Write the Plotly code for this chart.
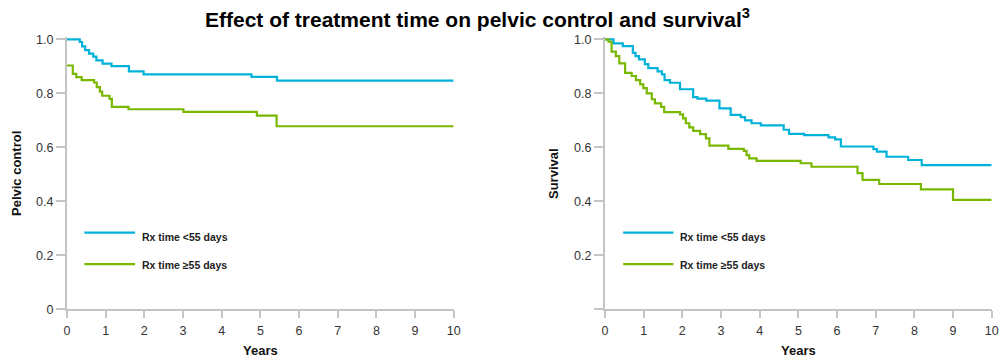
import plotly.graph_objects as go

# ---- data ----
years_ticks = [0, 1, 2, 3, 4, 5, 6, 7, 8, 9, 10]
y_ticks = [0, 0.2, 0.4, 0.6, 0.8, 1.0]
y_ticktext_left = ["0", "0.2", "0.4", "0.6", "0.8", "1.0"]
y_ticktext_right = [" ", "0.2", "0.4", "0.6", "0.8", "1.0"]

series_names = ["Rx time <55 days", "Rx time \u226555 days"]

# Pelvic control
pc_short_t = [0, 0.33, 0.39, 0.47, 0.57, 0.68, 0.76, 0.92, 1.15, 1.60, 1.98, 4.77, 5.43, 10]
pc_short_v = [1.0, 0.990, 0.974, 0.960, 0.947, 0.936, 0.922, 0.910, 0.901, 0.881, 0.870, 0.861, 0.847, 0.847]
pc_long_t = [0, 0.15, 0.24, 0.38, 0.70, 0.77, 0.85, 0.91, 1.10, 1.16, 1.59, 3.01, 4.91, 5.42, 10]
pc_long_v = [0.903, 0.872, 0.860, 0.849, 0.840, 0.823, 0.806, 0.791, 0.779, 0.750, 0.741, 0.731, 0.717, 0.678, 0.678]

# Survival
sv_short_t = [0, 0.22, 0.46, 0.72, 0.79, 0.88, 1.03, 1.12, 1.36, 1.47,
              1.54, 1.68, 1.94, 2.28, 2.39, 2.62, 2.96, 3.25, 3.51, 3.62,
              3.79, 4.03, 4.62, 4.76, 5.15, 5.78, 5.95, 6.10, 6.94, 7.03,
              7.28, 7.84, 8.19, 10]
sv_short_v = [1.0, 0.985, 0.975, 0.950, 0.938, 0.926, 0.908, 0.893, 0.881, 0.870,
              0.849, 0.839, 0.815, 0.786, 0.780, 0.773, 0.744, 0.720, 0.712, 0.700,
              0.689, 0.681, 0.665, 0.650, 0.645, 0.637, 0.629, 0.603, 0.593, 0.584,
              0.565, 0.553, 0.534, 0.534]
sv_long_t = [0, 0.09, 0.17, 0.28, 0.37, 0.52, 0.69, 0.80, 0.91, 0.99,
             1.08, 1.21, 1.29, 1.45, 1.53, 1.94, 2.02, 2.09, 2.18, 2.28,
             2.46, 2.61, 2.70, 3.19, 3.59, 3.66, 3.73, 3.92, 5.06, 5.34,
             6.53, 6.66, 7.09, 8.17, 9.0, 10]
sv_long_v = [1.0, 0.991, 0.954, 0.938, 0.911, 0.876, 0.864, 0.849, 0.833, 0.819,
             0.800, 0.778, 0.763, 0.750, 0.730, 0.722, 0.707, 0.689, 0.674, 0.661,
             0.649, 0.633, 0.606, 0.594, 0.587, 0.571, 0.559, 0.550, 0.541, 0.528,
             0.504, 0.479, 0.464, 0.444, 0.405, 0.405]

BLUE = "#00B2D9"
GREEN = "#79B800"
AXIS = "#C4C4C4"
FONT = "Arial, Liberation Sans, sans-serif"

W, H = 1002, 360

fig = go.Figure()

for (t, v, color, name, xa, ya) in [
    (pc_short_t, pc_short_v, BLUE, series_names[0], "x", "y"),
    (pc_long_t, pc_long_v, GREEN, series_names[1], "x", "y"),
    (sv_short_t, sv_short_v, BLUE, series_names[0], "x2", "y2"),
    (sv_long_t, sv_long_v, GREEN, series_names[1], "x2", "y2"),
]:
    fig.add_trace(go.Scatter(x=t, y=v, mode="lines", line=dict(color=color, width=2.2, shape="hv"),
                             name=name, showlegend=False, xaxis=xa, yaxis=ya, hoverinfo="skip"))

# pixel geometry
def px_x(p):
    return p / W

def px_y(p):
    return (H - p) / H

y_top_px, y_bot_px = 39.3, 309.3
ymax = 1.01
y_top_dom = y_bot_px - (y_bot_px - y_top_px) * ymax

xaxis_common = dict(range=[0, 10], tickvals=years_ticks, ticks="outside", ticklen=7, tickwidth=2,
                    tickcolor=AXIS, showline=True, linecolor=AXIS, linewidth=2, showgrid=False,
                    zeroline=False, tickfont=dict(family=FONT, size=12.5, color="#333"),
                    ticklabelstandoff=2, automargin=False, fixedrange=True)
yaxis_common = dict(range=[0, ymax], tickvals=y_ticks, ticks="outside", ticklen=9, tickwidth=2,
                    tickcolor=AXIS, showline=True, linecolor=AXIS, linewidth=2, showgrid=False,
                    zeroline=False, tickfont=dict(family=FONT, size=12.5, color="#333"),
                    automargin=False, fixedrange=True)

fig.update_layout(
    width=W, height=H,
    margin=dict(l=0, r=0, t=0, b=0),
    paper_bgcolor="white", plot_bgcolor="white",
    showlegend=False,
    xaxis=dict(domain=[px_x(67), px_x(453.7)], anchor="y", **xaxis_common),
    yaxis=dict(domain=[px_y(y_bot_px), px_y(y_top_dom)], anchor="x", ticktext=y_ticktext_left, **yaxis_common),
    xaxis2=dict(domain=[px_x(605), px_x(991.7)], anchor="y2", **xaxis_common),
    yaxis2=dict(domain=[px_y(y_bot_px), px_y(y_top_dom)], anchor="x2", ticktext=y_ticktext_right, **yaxis_common),
)

annotations = [
    dict(text="<b>Effect of treatment time on pelvic control and survival<sup>3</sup></b>",
         x=px_x(477), y=px_y(18), xref="paper", yref="paper", xanchor="center", yanchor="middle",
         showarrow=False, font=dict(family=FONT, size=21, color="#000")),
    dict(text="<b>Years</b>", x=px_x(260), y=px_y(350), xref="paper", yref="paper",
         xanchor="center", yanchor="middle", showarrow=False, font=dict(family=FONT, size=13, color="#111")),
    dict(text="<b>Years</b>", x=px_x(798), y=px_y(350), xref="paper", yref="paper",
         xanchor="center", yanchor="middle", showarrow=False, font=dict(family=FONT, size=13, color="#111")),
    dict(text="<b>Pelvic control</b>", x=px_x(17), y=px_y(174), xref="paper", yref="paper", textangle=-90,
         xanchor="center", yanchor="middle", showarrow=False, font=dict(family=FONT, size=13, color="#111")),
    dict(text="<b>Survival</b>", x=px_x(554), y=px_y(174), xref="paper", yref="paper", textangle=-90,
         xanchor="center", yanchor="middle", showarrow=False, font=dict(family=FONT, size=13, color="#111")),
]

shapes = []
# legends (one per panel)
for xa, ya, x0, x1, xt in [("x", "y", 0.45, 1.76, 1.88), ("x2", "y2", 0.47, 1.77, 1.89)]:
    for name, color, yl, yt in [(series_names[0], BLUE, 0.284, 0.269), (series_names[1], GREEN, 0.167, 0.164)]:
        shapes.append(dict(type="line", xref=xa, yref=ya, x0=x0, x1=x1, y0=yl, y1=yl,
                           line=dict(color=color, width=2.2)))
        annotations.append(dict(text="<b>" + name + "</b>", x=xt, y=yt, xref=xa, yref=ya,
                                xanchor="left", yanchor="middle", showarrow=False,
                                font=dict(family=FONT, size=10.5, color="#222")))

fig.update_layout(annotations=annotations, shapes=shapes)

fig.write_html("out.html", config={"displayModeBar": False, "staticPlot": True},
               post_script="document.body.style.margin='0';document.body.style.overflow='hidden';")
